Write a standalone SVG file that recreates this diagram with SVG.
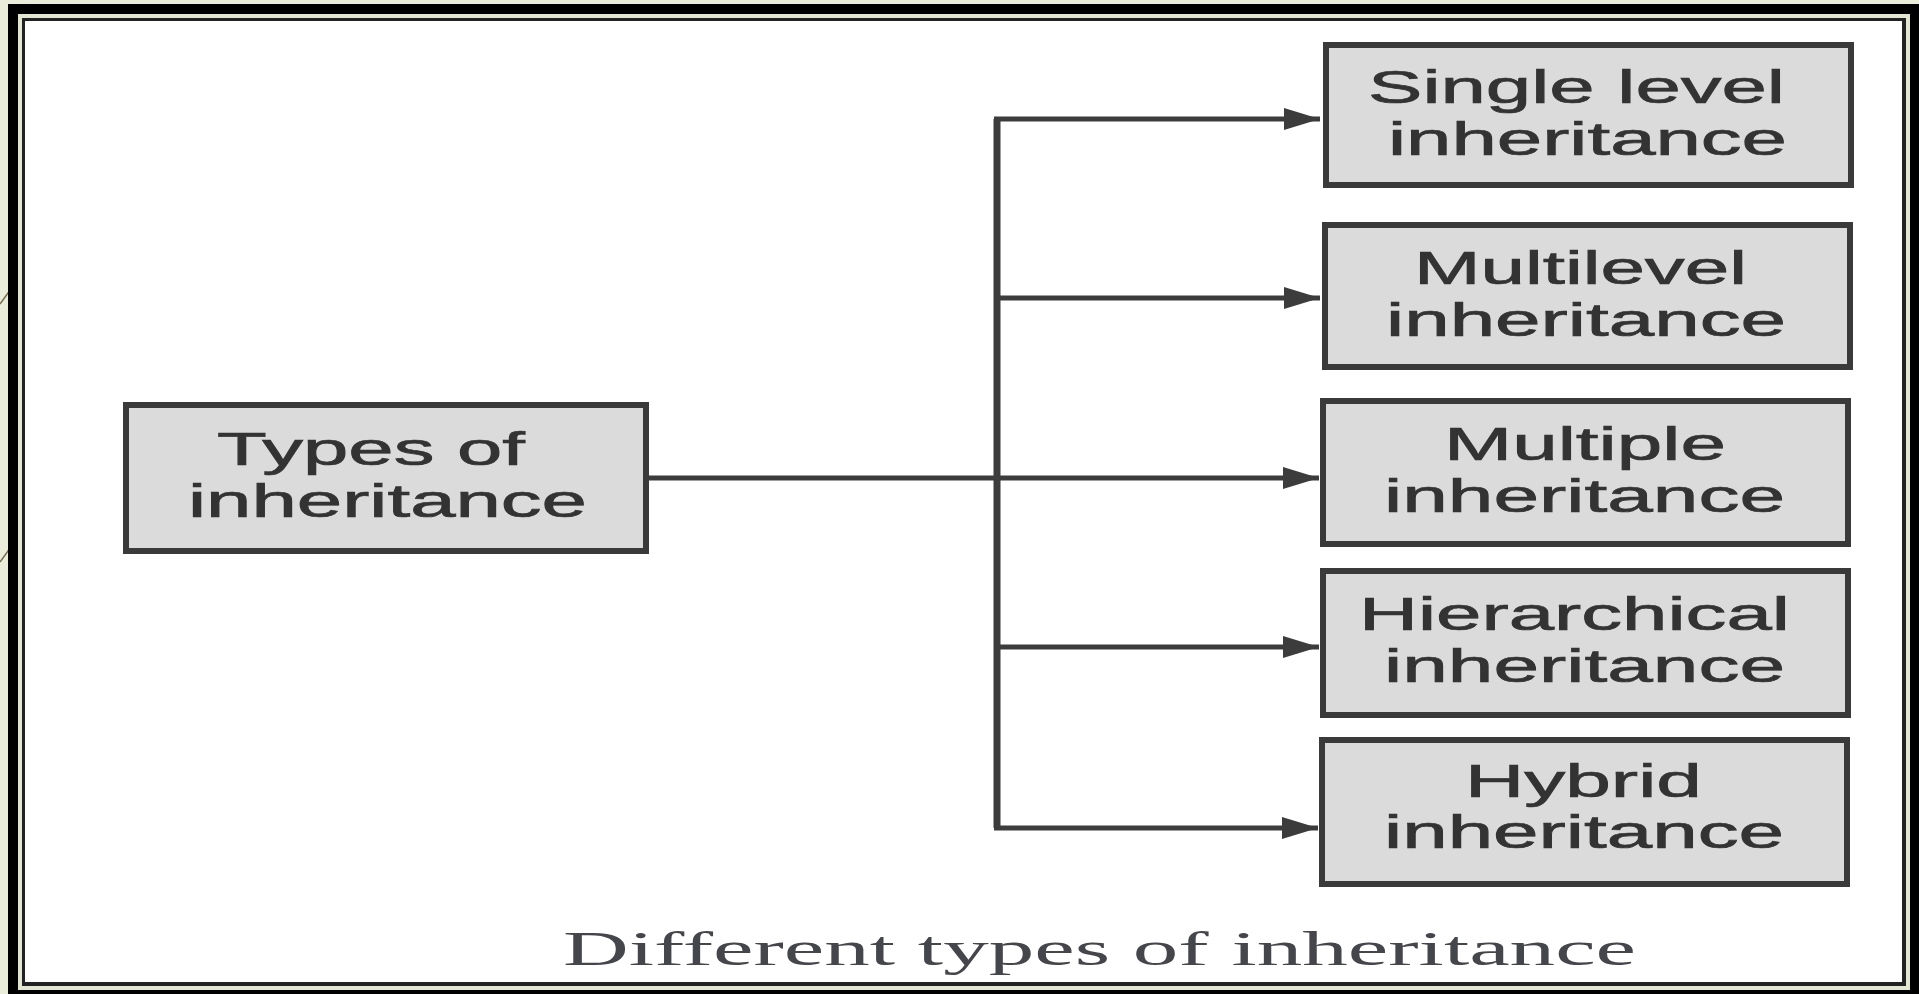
<svg xmlns="http://www.w3.org/2000/svg" width="1919" height="994" viewBox="0 0 1919 994">
  <style>
    .box { fill: #dbdbdb; stroke: #3a3a3a; stroke-width: 6; }
    .lbl { font-family: "Liberation Sans", Arial, sans-serif; font-size: 46px; fill: #333333; stroke: #333333; stroke-width: 0.7; }
    .conn { stroke: #3c3c3c; stroke-width: 5; fill: none; }
    .cap { font-family: "Liberation Serif", "Times New Roman", serif; font-size: 49px; fill: #45454c; }
  </style>
  <defs>
    <marker id="arrow" viewBox="0 0 36 22" refX="36" refY="11" markerWidth="36" markerHeight="22" markerUnits="userSpaceOnUse" orient="auto">
      <path d="M0,0 L36,11 L0,22 Z" fill="#3c3c3c"/>
    </marker>
  </defs>

  <g id="frame">
    <rect x="0" y="0" width="1919" height="994" fill="#e9edda"/>
    <path d="M0,304 Q14,284 30,264" stroke="#7a6e50" stroke-width="1.5" fill="none"/>
    <path d="M0,562 Q14,542 30,522" stroke="#7a6e50" stroke-width="1.5" fill="none"/>
    <rect x="8" y="4" width="1911" height="990" fill="#000"/>
    <rect x="18" y="14" width="1892" height="976" fill="#e3e7d2"/>
    <rect x="22" y="18" width="1884" height="968" fill="#222"/>
    <rect x="25" y="21" width="1877" height="961" fill="#fff"/>
  </g>

  <g id="connectors">
    <line class="conn" x1="997" y1="119" x2="997" y2="828" style="stroke-width:7"/>
    <line class="conn" x1="649" y1="478" x2="997" y2="478"/>
    <line class="conn" x1="994" y1="119" x2="1320" y2="119" marker-end="url(#arrow)"/>
    <line class="conn" x1="997" y1="298" x2="1320" y2="298" marker-end="url(#arrow)"/>
    <line class="conn" x1="997" y1="478" x2="1319" y2="478" marker-end="url(#arrow)"/>
    <line class="conn" x1="997" y1="647" x2="1319" y2="647" marker-end="url(#arrow)"/>
    <line class="conn" x1="994" y1="828" x2="1318" y2="828" marker-end="url(#arrow)"/>
  </g>

  <g id="types">
    <rect class="box" x="126" y="405" width="520" height="146"/>
    <text class="lbl" x="217" y="465" textLength="308" lengthAdjust="spacingAndGlyphs">Types of</text>
    <text class="lbl" x="188" y="517" textLength="399" lengthAdjust="spacingAndGlyphs">inheritance</text>
  </g>

  <g id="single">
    <rect class="box" x="1326" y="45" width="525" height="140"/>
    <text class="lbl" x="1368" y="103" textLength="417" lengthAdjust="spacingAndGlyphs">Single level</text>
    <text class="lbl" x="1388" y="155" textLength="399" lengthAdjust="spacingAndGlyphs">inheritance</text>
  </g>

  <g id="multilevel">
    <rect class="box" x="1325" y="225" width="525" height="142"/>
    <text class="lbl" x="1414" y="284" textLength="333" lengthAdjust="spacingAndGlyphs">Multilevel</text>
    <text class="lbl" x="1386" y="336" textLength="400" lengthAdjust="spacingAndGlyphs">inheritance</text>
  </g>

  <g id="multiple">
    <rect class="box" x="1323" y="401" width="525" height="143"/>
    <text class="lbl" x="1444" y="460" textLength="282" lengthAdjust="spacingAndGlyphs">Multiple</text>
    <text class="lbl" x="1384" y="512" textLength="401" lengthAdjust="spacingAndGlyphs">inheritance</text>
  </g>

  <g id="hierarchical">
    <rect class="box" x="1323" y="571" width="525" height="144"/>
    <text class="lbl" x="1359" y="630" textLength="431" lengthAdjust="spacingAndGlyphs">Hierarchical</text>
    <text class="lbl" x="1384" y="682" textLength="401" lengthAdjust="spacingAndGlyphs">inheritance</text>
  </g>

  <g id="hybrid">
    <rect class="box" x="1322" y="740" width="525" height="144"/>
    <text class="lbl" x="1465" y="797" textLength="237" lengthAdjust="spacingAndGlyphs">Hybrid</text>
    <text class="lbl" x="1384" y="848" textLength="400" lengthAdjust="spacingAndGlyphs">inheritance</text>
  </g>

  <g id="caption">
    <text class="cap" x="563" y="965" textLength="1073" lengthAdjust="spacingAndGlyphs">Different types of inheritance</text>
  </g>
</svg>
